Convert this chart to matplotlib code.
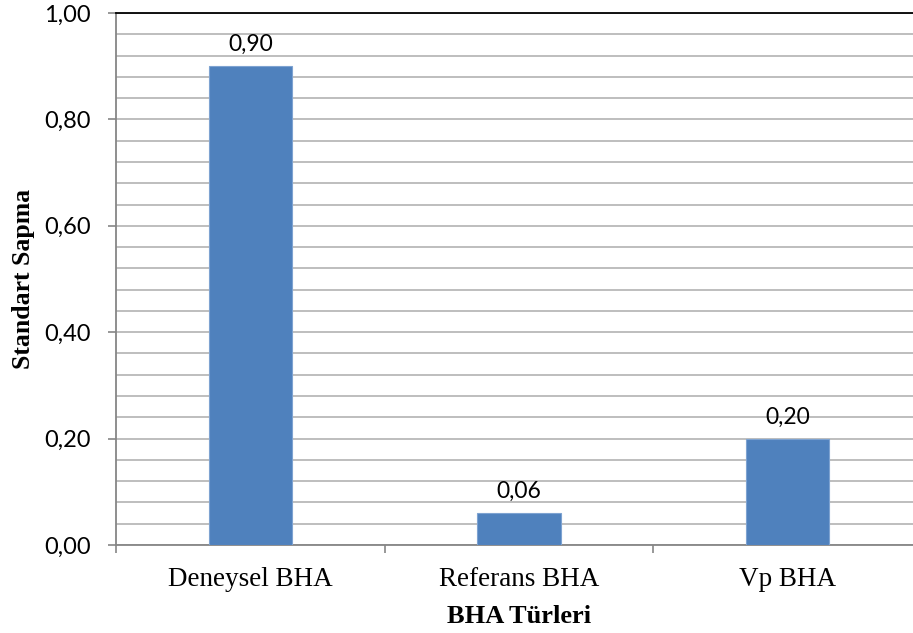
import matplotlib.pyplot as plt
import numpy as np

# BHA türlerine göre standart sapma
categories = ['Deneysel BHA', 'Referans BHA', 'Vp BHA']
values = [0.90, 0.06, 0.20]

fig = plt.figure(figsize=(9.13, 6.33), dpi=100)
ax = fig.add_axes([116 / 913, 88 / 633, 806 / 913, 532 / 633])

x = np.arange(len(categories))
ax.bar(x, values, width=0.31, color='#4f81bd', edgecolor='#7ea3d1', linewidth=0.8, zorder=3)

for xi, v in zip(x, values):
    ax.annotate(f'{v:.2f}'.replace('.', ','), (xi, v), xytext=(0, 8), textcoords='offset points',
                ha='center', va='bottom', fontsize=16.5, family='Lato')

ax.set_xlim(-0.5, 2.5)
ax.set_ylim(0, 1.0)

# y ekseni: ana çizgiler 0,2, ara çizgiler 0,04
ax.set_yticks(np.arange(0, 1.01, 0.2))
ax.set_yticklabels([f'{t:.2f}'.replace('.', ',') for t in np.arange(0, 1.01, 0.2)],
                   fontsize=17, family='Lato')
ax.set_yticks(np.arange(0, 1.001, 0.04), minor=True)
ax.yaxis.grid(True, which='both', color='#b3b3b3', linewidth=1.2, zorder=0)
ax.tick_params(axis='y', which='major', length=6, color='#868686', width=1.2, pad=12)
ax.tick_params(axis='y', which='minor', length=0)

# x ekseni: kategori sınırlarında tik
ax.set_xticks(x)
ax.set_xticklabels(categories, fontsize=19.5, family='Liberation Serif')
ax.set_xticks([-0.5, 0.5, 1.5, 2.5], minor=True)
ax.tick_params(axis='x', which='major', length=0, pad=16)
ax.tick_params(axis='x', which='minor', length=6, color='#868686', width=1.2)

for side in ['left', 'bottom']:
    ax.spines[side].set_color('#868686')
    ax.spines[side].set_linewidth(1.3)
ax.spines['top'].set_color('black')
ax.spines['top'].set_linewidth(1.3)
ax.spines['right'].set_visible(False)

ax.set_xlabel('BHA Türleri', fontsize=19, fontweight='bold', family='Liberation Serif', labelpad=9)
ax.set_ylabel('Standart Sapma', fontsize=18.5, fontweight='bold', family='Liberation Serif', labelpad=7)

plt.savefig('out.png', dpi=100)
